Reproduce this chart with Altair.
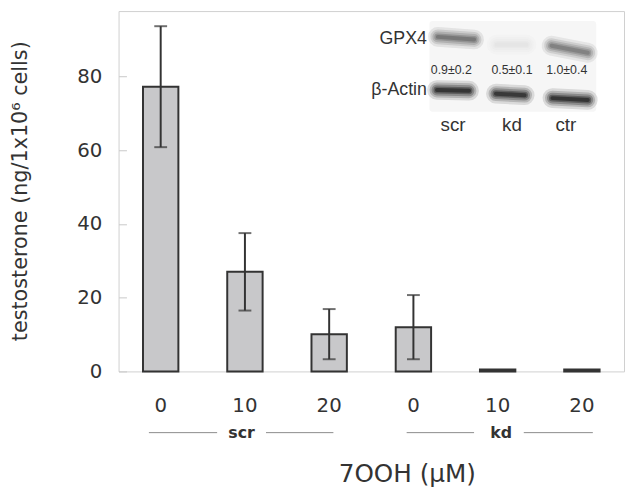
import altair as alt
import pandas as pd

# ---------------- main data ----------------
groups = ["scr", "scr", "scr", "kd", "kd", "kd"]
doses = ["0", "10", "20", "0", "10", "20"]
values = [77.2, 27.0, 10.1, 12.0, 0.5, 0.5]
errors = [16.4, 10.5, 6.8, 8.7, 0.0, 0.0]
y_ticks = [0, 20, 40, 60, 80]
y_title = "testosterone (ng/1x10\u2076 cells)"
x_title = "7OOH (\u03bcM)"

# group brackets under the axis (x in category-index units)
group_names = ["scr", "kd"]
group_label_x = [1.46, 4.54]
bracket_x0 = [0.36, 1.75, 3.42, 4.81]
bracket_x1 = [1.17, 2.55, 4.22, 5.63]
bracket_y = -16.6

# western blot inset (x in category-index units, y in axis units)
lanes = ["scr", "kd", "ctr"]
lane_label_x = [3.97, 4.67, 5.31]
lane_label_y = 66.8
quant_labels = ["0.9\u00b10.2", "0.5\u00b10.1", "1.0\u00b10.4"]
quant_x = [3.95, 4.67, 5.32]
quant_y = 81.8
row_names = ["GPX4", "\u03b2-Actin"]
row_label_x = 3.66
row_label_y = [90.0, 76.2]
gpx4_intensity = [0.60, 0.10, 0.55]
actin_intensity = [0.97, 0.95, 0.97]
gpx4_x0 = [3.79, 4.49, 5.14]
gpx4_x1 = [4.22, 4.84, 5.57]
gpx4_y0 = [90.7, 88.6, 88.3]
gpx4_y1 = [90.0, 88.6, 86.4]
actin_x0 = [3.78, 4.48, 5.15]
actin_x1 = [4.16, 4.82, 5.57]
actin_y0 = [76.3, 75.3, 74.1]
actin_y1 = [76.1, 74.9, 73.6]
blot_x = [3.69, 5.67]
blot_y = [70.4, 95.0]

FONT = "DejaVu Sans"
TXT = "#333333"
Y_DOMAIN = [0, 97.7]

conds = [f"{g}_{d}" for g, d in zip(groups, doses)]
df = pd.DataFrame({
    "cond": conds,
    "value": values,
    "lo": [v - e for v, e in zip(values, errors)],
    "hi": [v + e for v, e in zip(values, errors)],
    "err": errors,
})
df_err = df[df["err"] > 0]

y_scale = alt.Scale(domain=Y_DOMAIN, nice=False, zero=False)
y_axis = alt.Axis(
    values=y_ticks, domain=False, grid=False, ticks=True, tickSize=8,
    tickColor="#c8c8c8", offset=-8, labelPadding=17, labelFontSize=20,
    labelFont=FONT, labelColor=TXT, title=y_title, titleFont=FONT,
    titleFontSize=21, titleFontWeight="normal", titleColor=TXT,
    titleX=-107, titleY=182, titleBaseline="middle", titleAngle=270,
)
ax_scale = alt.Scale(domain=[0, 6], nice=False, zero=False)

x_band = alt.X(
    "cond:N", sort=conds,
    scale=alt.Scale(paddingInner=0.58, paddingOuter=0.29),
    axis=alt.Axis(
        labelExpr="split(datum.label, '_')[1]", labelAngle=0,
        domain=False, ticks=False, tickSize=0, labelPadding=25,
        labelFontSize=20, labelFont=FONT, labelColor=TXT,
        title=x_title, titleFont=FONT, titleFontSize=25,
        titleFontWeight="normal", titleColor=TXT,
        titleX=292, titleY=104, titleBaseline="middle",
    ),
)

bars = alt.Chart(df).mark_bar(
    fill="#c8c8ca", stroke="#333333", strokeWidth=2
).encode(
    x=x_band,
    y=alt.Y("value:Q", scale=y_scale, axis=y_axis),
)

err_rule = alt.Chart(df_err).mark_rule(color="#333333", strokeWidth=2).encode(
    x=alt.X("cond:N", sort=conds),
    y=alt.Y("lo:Q", scale=y_scale, axis=y_axis),
    y2="hi:Q",
)
cap_lo = alt.Chart(df_err).mark_tick(
    color="#333333", thickness=2, size=13, orient="horizontal"
).encode(
    x=alt.X("cond:N", sort=conds),
    y=alt.Y("lo:Q", scale=y_scale, axis=y_axis),
)
cap_hi = alt.Chart(df_err).mark_tick(
    color="#333333", thickness=2, size=13, orient="horizontal"
).encode(
    x=alt.X("cond:N", sort=conds),
    y=alt.Y("hi:Q", scale=y_scale, axis=y_axis),
)

main = alt.layer(bars, err_rule, cap_lo, cap_hi)

# ---------- annotation layers (independent x) ----------
def ax_x(field):
    return alt.X(f"{field}:Q", scale=ax_scale, axis=None)

def ax_y(field):
    return alt.Y(f"{field}:Q", scale=y_scale, axis=y_axis)

br = pd.DataFrame({"x0": bracket_x0, "x1": bracket_x1,
                   "y": [bracket_y] * len(bracket_x0)})
brackets = alt.Chart(br).mark_rule(color="#8a8a8a", strokeWidth=1).encode(
    x=ax_x("x0"), x2="x1:Q", y=ax_y("y"))

gl = pd.DataFrame({"x": group_label_x, "y": [bracket_y] * 2, "t": group_names})
group_text = alt.Chart(gl).mark_text(
    font=FONT, fontSize=16, fontWeight="bold", color=TXT, baseline="middle"
).encode(x=ax_x("x"), y=ax_y("y"), text="t:N")

bg = pd.DataFrame({"x0": [blot_x[0]], "x1": [blot_x[1]],
                   "y0": [blot_y[0]], "y1": [blot_y[1]]})
blot_bg = alt.Chart(bg).mark_rect(fill="#f6f6f6", cornerRadius=3).encode(
    x=ax_x("x0"), x2="x1:Q", y=ax_y("y0"), y2="y1:Q")

rows = []
for i, ln in enumerate(lanes):
    rows += [
        {"band": f"g{i}", "x": gpx4_x0[i], "y": gpx4_y0[i], "int": gpx4_intensity[i]},
        {"band": f"g{i}", "x": gpx4_x1[i], "y": gpx4_y1[i], "int": gpx4_intensity[i]},
        {"band": f"a{i}", "x": actin_x0[i], "y": actin_y0[i], "int": actin_intensity[i]},
        {"band": f"a{i}", "x": actin_x1[i], "y": actin_y1[i], "int": actin_intensity[i]},
    ]
bands_df = pd.DataFrame(rows)
band_color = alt.Color("int:Q", scale=alt.Scale(domain=[0, 1],
                       range=["#ffffff", "#000000"]), legend=None)
band_layers = []
for w, op in [(20, 0.12), (15, 0.18), (11, 0.25), (7, 0.35), (4, 0.5)]:
    band_layers.append(
        alt.Chart(bands_df).mark_line(strokeCap="round", strokeWidth=w, opacity=op)
        .encode(x=ax_x("x"), y=ax_y("y"), detail="band:N", color=band_color)
    )

rl = pd.DataFrame({"x": [row_label_x] * 2, "y": row_label_y, "t": row_names})
row_text = alt.Chart(rl).mark_text(
    font="Liberation Sans", fontSize=18, color=TXT, align="right", baseline="middle"
).encode(x=ax_x("x"), y=ax_y("y"), text="t:N")

ql = pd.DataFrame({"x": quant_x, "y": [quant_y] * 3, "t": quant_labels})
quant_text = alt.Chart(ql).mark_text(
    font="Liberation Sans", fontSize=12.5, color=TXT, baseline="middle"
).encode(x=ax_x("x"), y=ax_y("y"), text="t:N")

ll = pd.DataFrame({"x": lane_label_x, "y": [lane_label_y] * 3, "t": lanes})
lane_text = alt.Chart(ll).mark_text(
    font="Liberation Sans", fontSize=19, color=TXT, baseline="middle"
).encode(x=ax_x("x"), y=ax_y("y"), text="t:N")

annot = alt.layer(blot_bg, *band_layers, row_text, quant_text, lane_text,
                  brackets, group_text)

chart = alt.layer(main, annot).resolve_scale(
    x="independent", color="independent"
).properties(
    width=512, height=365,
    padding={"left": 112, "top": 0, "right": 1, "bottom": 116},
    autosize=alt.AutoSizeParams(type="none"),
).configure_view(stroke="#cfcfcf", strokeWidth=1)

chart.save("out.html", embed_options={"renderer": "svg", "actions": False})
